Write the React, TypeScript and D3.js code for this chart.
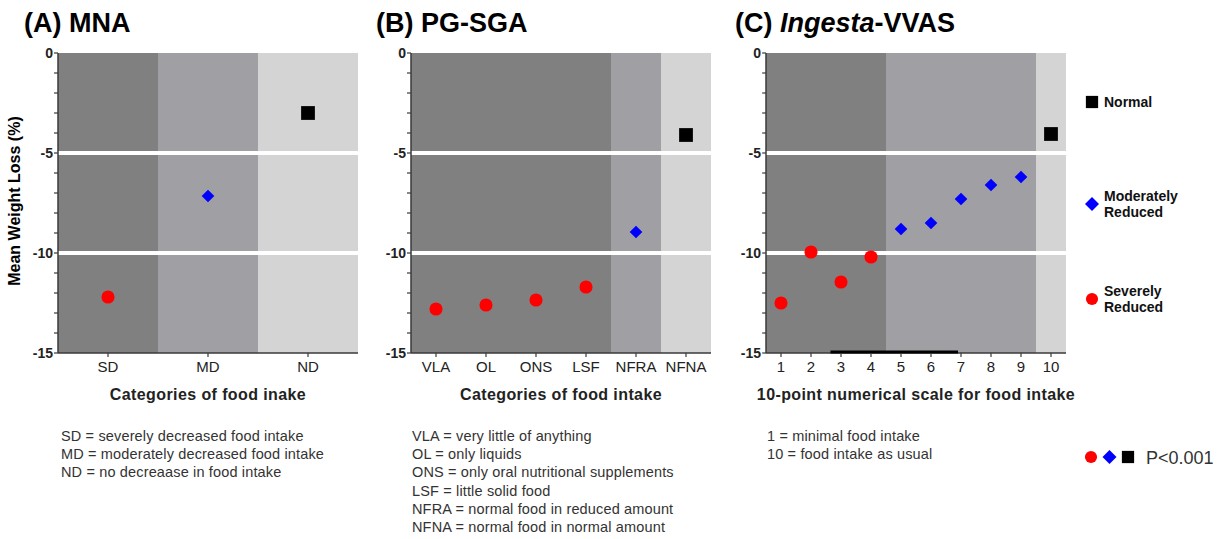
import React from "react"
import { scaleBand, scaleLinear, symbol, symbolSquare, symbolCircle, range } from "d3"

// ---- data ----
const mnaCategories = ["SD", "MD", "ND"]
const mnaValues = [-12.2, -7.15, -3.0]
const mnaGroups = ["severe", "moderate", "normal"]
const mnaNotes = [
  "SD = severely decreased food intake",
  "MD = moderately decreased food intake",
  "ND = no decreaase in food intake",
]

const pgsgaCategories = ["VLA", "OL", "ONS", "LSF", "NFRA", "NFNA"]
const pgsgaValues = [-12.8, -12.6, -12.35, -11.7, -8.95, -4.1]
const pgsgaGroups = ["severe", "severe", "severe", "severe", "moderate", "normal"]
const pgsgaNotes = [
  "VLA = very little of anything",
  "OL = only liquids",
  "ONS = only oral nutritional supplements",
  "LSF = little solid food",
  "NFRA = normal food in reduced amount",
  "NFNA = normal food in normal amount",
]

const vvasScores = ["1", "2", "3", "4", "5", "6", "7", "8", "9", "10"]
const vvasValues = [-12.5, -9.95, -11.45, -10.2, -8.8, -8.5, -7.3, -6.6, -6.2, -4.05]
const vvasGroups = ["severe", "severe", "severe", "severe", "moderate", "moderate", "moderate", "moderate", "moderate", "normal"]
const vvasNotes = ["1 = minimal food intake", "10 = food intake as usual"]

const yMajorTicks = [0, -5, -10, -15]
const yMinorTicks = range(0, -16, -1)
const cutoffs = [-5, -10]

const legendItems = [
  { group: "normal", lines: ["Normal"] },
  { group: "moderate", lines: ["Moderately", "Reduced"] },
  { group: "severe", lines: ["Severely", "Reduced"] },
]
const pValueLabel = "P<0.001"

// ---- styles ----
const FONT = "'Liberation Sans', Arial, sans-serif"
const bandColor: Record<string, string> = { severe: "#808080", moderate: "#a09fa3", normal: "#d4d4d4" }
const AXIS = "#3a3a3a"

const Marker = ({ group, x, y, small }: { group: string; x: number; y: number; small?: boolean }) => {
  if (group === "normal") {
    const d = symbol(symbolSquare, small ? 150 : 190)()
    return <path d={d!} transform={`translate(${x},${y})`} fill="#000" />
  }
  if (group === "moderate") {
    const d = symbol(symbolSquare, small ? 98 : 80)()
    return <path d={d!} transform={`translate(${x},${y}) rotate(45)`} fill="#0000ff" />
  }
  const d = symbol(symbolCircle, small ? 115 : 135)()
  return <path d={d!} transform={`translate(${x},${y})`} fill="#ff0000" />
}

const PLOT_TOP = 53
const PLOT_H = 300
const PLOT_W = 300

type PanelProps = {
  left: number
  title: React.ReactNode
  titleX: number
  categories: string[]
  values: number[]
  groups: string[]
  xTitle: string
  notes: string[]
  notesX: number
  showYTitle?: boolean
  axisSmudge?: [string, string]
}

const Panel = ({ left, title, titleX, categories, values, groups, xTitle, notes, notesX, showYTitle, axisSmudge }: PanelProps) => {
  const x = scaleBand<string>().domain(categories).range([left, left + PLOT_W]).padding(0)
  const y = scaleLinear().domain([0, -15]).range([PLOT_TOP, PLOT_TOP + PLOT_H])
  const bw = x.bandwidth()
  const bottom = y(-15)

  return (
    <g>
      <text x={titleX} y={32} fontFamily={FONT} fontWeight="bold" fontSize={27} fill="#000">
        {title}
      </text>

      {/* background zones */}
      {categories.map((c, i) => (
        <rect key={c} x={x(c)!} y={y(0)} width={bw} height={PLOT_H}
          fill={bandColor[groups[i]]} shapeRendering="crispEdges" />
      ))}

      {/* cut-off lines */}
      {cutoffs.map(v => (
        <line key={v} x1={left} x2={left + PLOT_W} y1={y(v)} y2={y(v)} stroke="#fff" strokeWidth={4} />
      ))}

      {/* y axis */}
      <line x1={left} x2={left} y1={y(0)} y2={bottom} stroke={AXIS} strokeWidth={1.5} />
      {yMinorTicks.map(t => (
        <line key={t} x1={left - 4} x2={left} y1={y(t)} y2={y(t)} stroke={AXIS} strokeWidth={1.2} />
      ))}
      {yMajorTicks.map(t => (
        <text key={t} x={left - 5} y={y(t)} dy="0.36em" textAnchor="end"
          fontFamily={FONT} fontWeight="bold" fontSize={14} fill="#222">{t}</text>
      ))}

      {/* x axis */}
      <line x1={left} x2={left + PLOT_W} y1={bottom} y2={bottom} stroke={AXIS} strokeWidth={1.5} />
      {axisSmudge && (
        <line x1={x(axisSmudge[0])! + bw * 0.15} x2={x(axisSmudge[1])! + bw * 0.4}
          y1={bottom - 1} y2={bottom - 1} stroke="#000" strokeWidth={3} />
      )}
      {categories.map(c => (
        <g key={c}>
          <line x1={x(c)! + bw / 2} x2={x(c)! + bw / 2} y1={bottom} y2={bottom + 4} stroke={AXIS} strokeWidth={1.2} />
          <text x={x(c)! + bw / 2} y={372} textAnchor="middle" fontFamily={FONT} fontSize={15} fill="#222">{c}</text>
        </g>
      ))}
      <text x={left + PLOT_W / 2} y={400} textAnchor="middle" fontFamily={FONT} fontWeight="bold"
        fontSize={16} letterSpacing={0.4} fill="#222">
        {xTitle}
      </text>

      {showYTitle && (
        <text transform={`translate(${left - 38},${y(-7.4)}) rotate(-90)`} textAnchor="middle"
          fontFamily={FONT} fontWeight="bold" fontSize={16} fill="#000">Mean Weight Loss (%)</text>
      )}

      {/* points */}
      {values.map((v, i) => (
        <Marker key={categories[i]} group={groups[i]} x={x(categories[i])! + bw / 2} y={y(v)} />
      ))}

      {/* footnotes */}
      {notes.map((n, i) => (
        <text key={n} x={notesX} y={441 + i * 18.2} fontFamily={FONT} fontSize={14.5}
          letterSpacing={0.15} fill="#333">{n}</text>
      ))}
    </g>
  )
}

export default function App() {
  return (
    <svg width={1222} height={539} style={{ position: "absolute", left: 0, top: 0, background: "#fff" }}>
      <Panel left={58} titleX={24} title="(A) MNA" categories={mnaCategories} values={mnaValues}
        groups={mnaGroups} xTitle="Categories of food inake" notes={mnaNotes} notesX={61} showYTitle />
      <Panel left={411} titleX={376} title="(B) PG-SGA" categories={pgsgaCategories} values={pgsgaValues}
        groups={pgsgaGroups} xTitle="Categories of food intake" notes={pgsgaNotes} notesX={412} />
      <Panel left={766} titleX={735}
        title={<><tspan>(C) </tspan><tspan fontStyle="italic">Ingesta</tspan><tspan>-VVAS</tspan></>}
        categories={vvasScores} values={vvasValues} groups={vvasGroups}
        xTitle="10-point numerical scale for food intake" notes={vvasNotes} notesX={767}
        axisSmudge={["3", "7"]} />

      {/* group legend */}
      {legendItems.map((item, i) => {
        const cy = [102, 204, 299][i]
        const lineH = 16.5
        const first = cy + 5 - ((item.lines.length - 1) * lineH) / 2
        return (
          <g key={item.group}>
            <Marker group={item.group} x={1092} y={cy} small />
            {item.lines.map((l, j) => (
              <text key={j} x={1104} y={first + j * lineH} fontFamily={FONT} fontWeight="bold"
                fontSize={14} fill="#111">{l}</text>
            ))}
          </g>
        )
      })}

      {/* significance legend */}
      {["severe", "moderate", "normal"].map((g, i) => (
        <Marker key={g} group={g} x={1091 + i * 18.5} y={457} small />
      ))}
      <text x={1146} y={463.5} fontFamily={FONT} fontSize={18} fill="#333">{pValueLabel}</text>
    </svg>
  )
}
